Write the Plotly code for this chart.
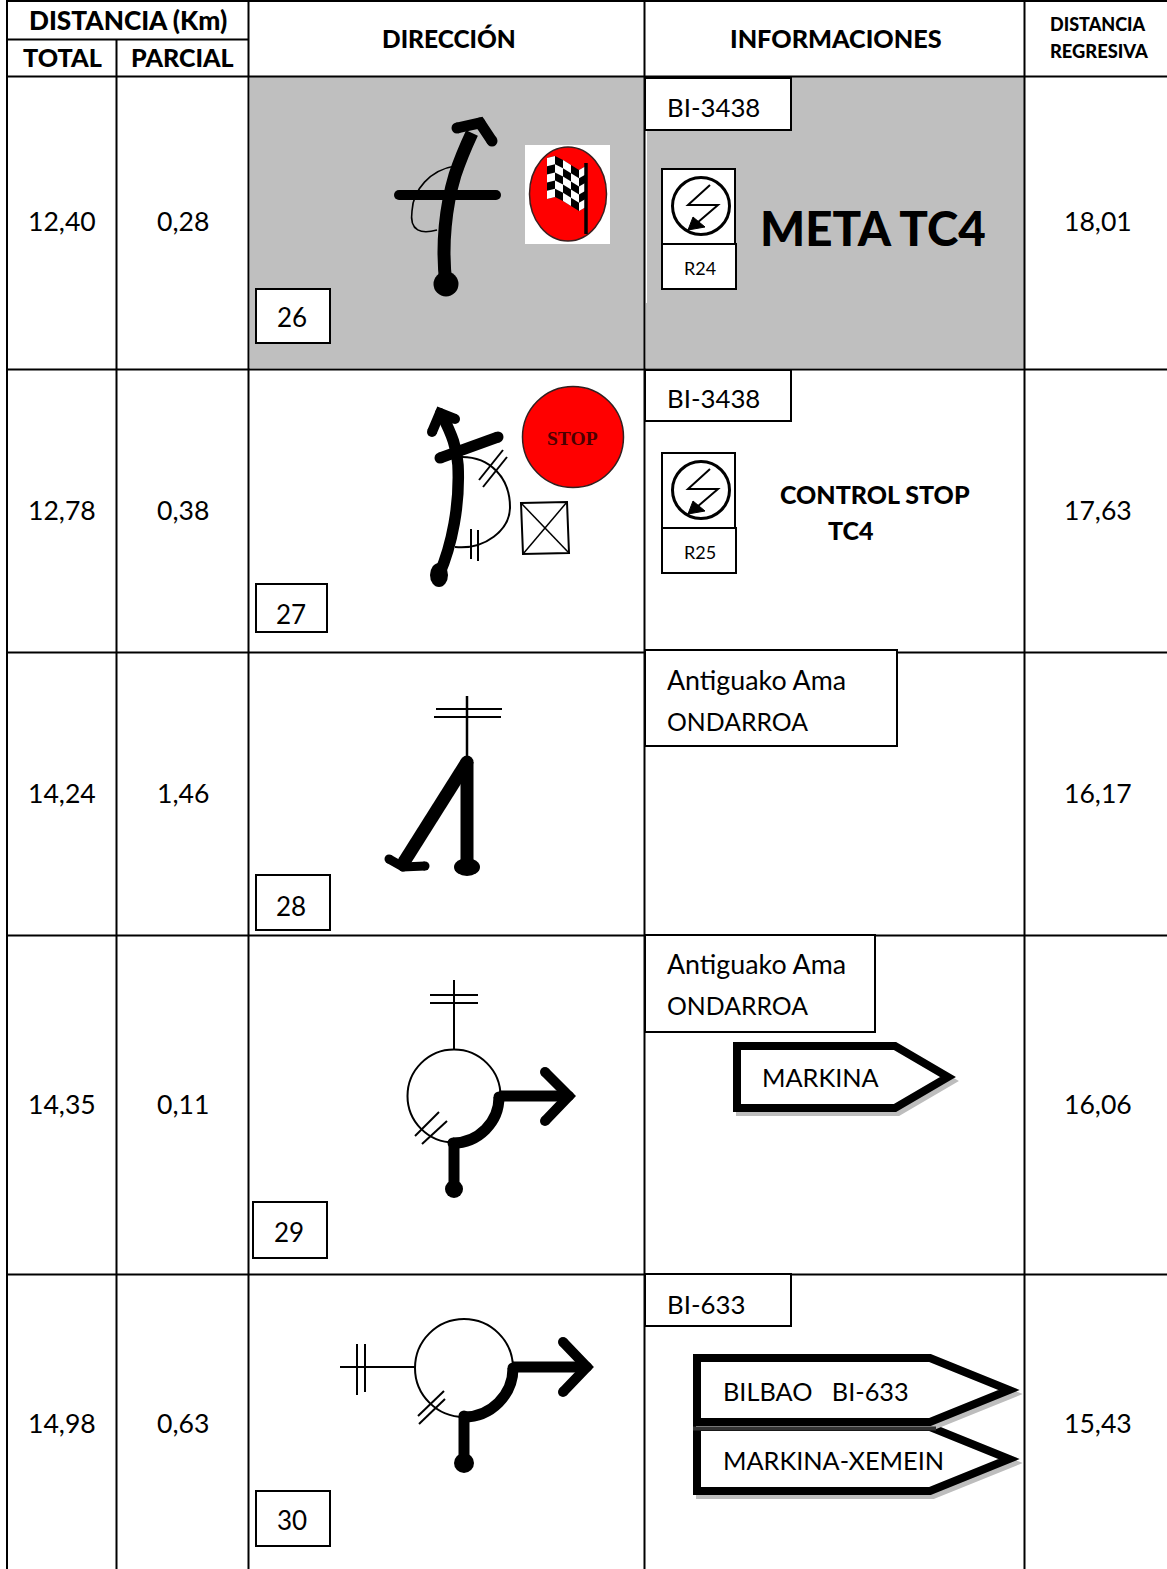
import plotly.graph_objects as go

W, H = 1167, 1569
FONT = "Lato"

# ---------- table content ----------
headers_top = ["DISTANCIA (Km)", "DIRECCIÓN", "INFORMACIONES"]
headers_sub = ["TOTAL", "PARCIAL"]
header_last = ["DISTANCIA", "REGRESIVA"]
total = ["12,40", "12,78", "14,24", "14,35", "14,98"]
parcial = ["0,28", "0,38", "1,46", "0,11", "0,63"]
regresiva = ["18,01", "17,63", "16,17", "16,06", "15,43"]
row_numbers = ["26", "27", "28", "29", "30"]
road_labels = ["BI-3438", "BI-3438", "Antiguako Ama<br>ONDARROA", "Antiguako Ama<br>ONDARROA", "BI-633"]
sign_labels = ["MARKINA", "BILBAO   BI-633", "MARKINA-XEMEIN"]
repair_labels = ["R24", "R25"]

# ---------- layout ----------
row_y = [76, 369, 652, 935, 1274]
row_centre = [221, 510, 793, 1104, 1423]
number_boxes = [(256, 289, 330, 343), (256, 584, 327, 632), (256, 875, 330, 930),
                (253, 1202, 327, 1258), (256, 1491, 330, 1546)]
number_text_x = [291.5, 291, 291, 289, 291.5]
number_text_y = [317, 613.5, 906, 1232, 1520]
road_boxes = [(645, 78, 791, 130), (645, 370, 791, 421), (645, 650, 897, 746),
              (645, 935, 875, 1032), (645, 1274, 791, 1326)]
road_text_y = [107, 398, 680, 964, 1304]

shapes, notes = [], []


def rect(x0, y0, x1, y1, fill="rgba(0,0,0,0)", line="black", w=1.5):
    shapes.append(dict(type="rect", x0=x0, y0=y0, x1=x1, y1=y1, fillcolor=fill,
                       line=dict(color=line, width=w)))


def ell(cx, cy, rx, ry=None, fill="black", line="black", w=0):
    ry = rx if ry is None else ry
    shapes.append(dict(type="circle", x0=cx - rx, x1=cx + rx, y0=cy - ry, y1=cy + ry,
                       fillcolor=fill, line=dict(color=line, width=w)))


def path(d, w=2, fill="rgba(0,0,0,0)", line="black"):
    shapes.append(dict(type="path", path=d, fillcolor=fill, line=dict(color=line, width=w)))


def seg(p, q, w=2, caps=False, line="black"):
    path(f"M{p[0]},{p[1]} L{q[0]},{q[1]}", w, line=line)
    if caps:
        ell(p[0], p[1], w / 2)
        ell(q[0], q[1], w / 2)


def poly(pts, w=2, caps=False, close=False, fill="rgba(0,0,0,0)", line="black"):
    d = "M" + " L".join(f"{x},{y}" for x, y in pts) + (" Z" if close else "")
    path(d, w, fill, line)
    if caps:
        for x, y in pts:
            ell(x, y, w / 2)


def text(x, y, s, size, weight=400, anchor="center", color="black", family=FONT):
    notes.append(dict(x=x, y=y, text=s, showarrow=False,
                      xanchor=anchor, yanchor="middle", align="left",
                      font=dict(family=family, size=size, color=color, weight=weight)))


# gray row
rect(250, 77, 644, 368, fill="#BFBFBF", line="#BFBFBF", w=0)
rect(646, 77, 1024, 368, fill="#BFBFBF", line="#BFBFBF", w=0)
rect(645, 130, 647, 303, fill="white", line="white", w=0)

# grid
GRID = 2
seg((6, 1), (W, 1), GRID)
seg((6, 39.5), (248, 39.5), GRID)
for y in row_y:
    seg((6, y + 0.5), (W, y + 0.5), GRID)
for x in (7, 116.5, 248.5, 644.5, 1024.5):
    seg((x, 39.5 if x == 116.5 else 0), (x, H), GRID)

# header text
HW = 900
text(127.5, 20, headers_top[0], 26.2, HW)
text(62, 57, headers_sub[0], 25.2, HW)
text(182.5, 57, headers_sub[1], 25, HW)
text(448.5, 38, headers_top[1], 24.5, HW)
text(836, 38, headers_top[2], 25.2, HW)
text(1097.5, 24, header_last[0], 18, HW)
text(1098.5, 51, header_last[1], 18.3, HW)

# values
for i in range(5):
    text(62, row_centre[i], total[i], 26.6)
    text(182.5, row_centre[i], parcial[i], 26.6)
    text(1097.5, row_centre[i], regresiva[i], 26.6)
    x0, y0, x1, y1 = number_boxes[i]
    rect(x0, y0, x1, y1, fill="white", w=2)
    text(number_text_x[i], number_text_y[i], row_numbers[i], 26)
    x0, y0, x1, y1 = road_boxes[i]
    rect(x0, y0, x1, y1, fill="white", w=2)
    if "<br>" in road_labels[i]:
        a, b = road_labels[i].split("<br>")
        text(665, road_text_y[i], a, 26.8, anchor="left")
        text(665, road_text_y[i] + 41, b, 24.8, anchor="left")
    else:
        text(665, road_text_y[i], road_labels[i], 25.8, anchor="left")


# repair icon
def repair(dy, label):
    rect(662, 169 + dy, 735, 244 + dy, fill="white", w=2)
    rect(662, 244 + dy, 736, 289 + dy, fill="white", w=2)
    ell(701, 206 + dy, 28.5, fill="white", w=3)
    poly([(710, 185 + dy), (688, 205 + dy), (718, 205 + dy), (697, 223 + dy)], 2)
    poly([(688, 230 + dy), (693, 217 + dy), (705, 227 + dy)], 1, close=True, fill="black")
    text(699.5, 268 + dy, label, 18)


repair(0, repair_labels[0])
repair(284, repair_labels[1])
text(873, 227, "META TC4", 47.5, HW)
text(874.5, 494, "CONTROL STOP", 25, HW)
text(851, 530, "TC4", 25, HW)

# --- row 26 glyph ---
path("M412,211 C413,190 430,170 455,166", 1.6)
path("M412,211 C409,232 422,234 437,230", 1.6)
path("M446,284 C441,245 446,205 455,175 C460,160 465,148 472,133", 13)
ell(446, 284, 12.5)
poly([(457, 128), (480, 123), (492, 141)], 11, caps=True)
seg((399, 195), (496, 195), 10, caps=True)
# flag badge
rect(525, 145, 610, 244, fill="white", line="white", w=0)
ell(568, 194, 38.5, 47, fill="#FF0000", line="#3a2020", w=1.5)
fx = [547, 555, 563, 571, 579, 586]
ftop = [158, 156, 160, 165, 170, 166]
fh = 41
poly([(fx[i], ftop[i]) for i in range(6)] + [(fx[i], ftop[i] + fh) for i in range(5, -1, -1)],
     0, close=True, fill="black")
for c in range(5):
    for r in range(5):
        if (c + r) % 2 == 0:
            h = fh / 5
            poly([(fx[c], ftop[c] + r * h), (fx[c + 1], ftop[c + 1] + r * h),
                  (fx[c + 1], ftop[c + 1] + (r + 1) * h), (fx[c], ftop[c] + (r + 1) * h)],
                 0, close=True, fill="white")
seg((586, 163), (586, 234), 3.5)

# --- row 27 glyph ---
path("M460,457 C490,456 510,478 510,507 C510,530 485,550 455,547", 2)
seg((479, 480), (503, 450), 2)
seg((483, 487), (507, 457), 2)
seg((471, 529), (471, 559), 2)
seg((478, 530), (478, 561), 2)
path("M439,575 C452,545 460,505 458,465 C457,448 452,435 442,415", 11.5)
ell(439, 575, 9, 12)
poly([(432, 432), (440, 413), (455, 419)], 10, caps=True)
seg((440, 458), (498, 437), 11, caps=True)
poly([(521, 503), (567, 502), (569, 553), (523, 554)], 2, close=True)
seg((521, 503), (569, 553), 1.5)
seg((567, 502), (523, 554), 1.5)
ell(573, 437, 50.5, fill="#FF0000", line="#302020", w=1.5)
text(572, 438, "STOP", 19.5, 700, color="#4a0000", family="Liberation Serif")

# --- row 28 glyph ---
seg((467, 696), (467, 757), 2.5)
seg((436, 709), (502, 709), 2)
seg((434, 717), (501, 717), 2)
seg((467, 762), (467, 865), 13)
poly([(467, 762), (404, 862)], 13, caps=True)
ell(467, 867, 13, 9)
poly([(389, 859), (403, 867), (425, 866)], 9, caps=True)


# --- rows 29 / 30 roundabouts ---
def quarter(cx, cy, r, w):
    k = 0.55 * r
    path(f"M{cx},{cy + r} C{cx + k},{cy + r} {cx + r},{cy + k} {cx + r},{cy}", w)


ell(454, 1096, 46.5, fill="rgba(0,0,0,0)", w=2)
seg((454, 980), (454, 1050), 2)
seg((430, 995), (478, 995), 2)
seg((430, 1003), (478, 1003), 2)
seg((415, 1136), (439, 1112), 2)
seg((422, 1144), (447, 1121), 2)
quarter(453, 1097, 46, 11)
ell(453, 1143, 5.5)
ell(499, 1097, 5.5)
seg((454, 1143), (454, 1188), 11)
ell(454, 1189, 9)
seg((499, 1096), (569, 1096), 11)
poly([(545, 1072), (569, 1096), (545, 1121)], 10, caps=True)

ell(464, 1368, 49, fill="rgba(0,0,0,0)", w=2)
seg((340, 1367), (415, 1367), 2)
seg((357, 1344), (357, 1395), 2)
seg((365, 1344), (365, 1392), 2)
seg((418, 1416), (444, 1391), 2)
seg((419, 1424), (445, 1399), 2)
quarter(464, 1368, 49, 11)
ell(464, 1416, 5.5)
ell(513, 1368, 5.5)
seg((464, 1416), (464, 1463), 11)
ell(464, 1463, 10)
seg((513, 1367), (587, 1367), 11)
poly([(563, 1342), (587, 1367), (563, 1392)], 10, caps=True)


# --- direction signs ---
def sign(pts, label, lx, ly, w=8):
    shadow = [(x + 3, y + 4) for x, y in pts]
    poly(shadow, w, close=True, line="#BDBDBD")
    poly(pts, w, close=True, fill="white")
    text(lx, ly, label, 25.3, anchor="left")


sign([(737, 1046), (895, 1046), (948, 1077), (895, 1108), (737, 1108)], sign_labels[0], 759.5, 1077)
sign([(697, 1427), (930, 1427), (1009, 1459), (930, 1491), (697, 1491)], sign_labels[2], 720.5, 1460)
sign([(697, 1358), (930, 1358), (1009, 1390), (930, 1422), (697, 1422)], sign_labels[1], 720.5, 1391)
seg((693, 1428.5), (936, 1428.5), 4, line="#333333")

fig = go.Figure()
fig.update_layout(
    width=W, height=H, margin=dict(l=0, r=0, t=0, b=0),
    paper_bgcolor="white", plot_bgcolor="white", showlegend=False,
    xaxis=dict(range=[0, W], visible=False, fixedrange=True),
    yaxis=dict(range=[H, 0], visible=False, fixedrange=True),
    shapes=shapes, annotations=notes,
)
fig.write_html("out.html", config=dict(displayModeBar=False),
               post_script="document.body.style.margin='0';")
